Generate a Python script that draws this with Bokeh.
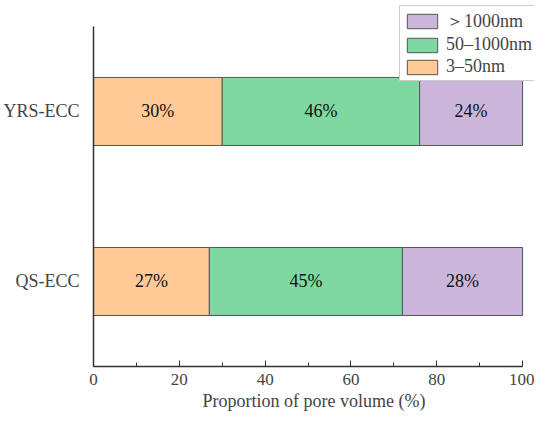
from bokeh.plotting import figure
from bokeh.models import ColumnDataSource, Legend, LegendItem, FixedTicker, SingleIntervalTicker, Range1d
from bokeh.core.properties import value
from bokeh.embed import file_html
from bokeh.resources import INLINE

samples = ["QS-ECC", "YRS-ECC"]
small = [27, 30]      # 3-50nm
medium = [45, 46]     # 50-1000nm
large = [28, 24]      # >1000nm
series_names = ["3–50nm", "50–1000nm", "＞1000nm"]
colors = ["#FFCA96", "#7ED8A0", "#CBB6DB"]
ypos = [0.5, 1.5]

FONT = "Liberation Serif"

src = ColumnDataSource(dict(y=ypos, s1=small, s2=medium, s3=large))

p = figure(width=534, height=416, output_backend="svg", toolbar_location=None,
           x_range=Range1d(0, 102.78), y_range=Range1d(0, 2.129),
           min_border_left=90, min_border_right=0, min_border_top=4, min_border_bottom=50)
p.outline_line_color = None
p.xgrid.visible = False
p.ygrid.visible = False

rs = p.hbar_stack(["s1", "s2", "s3"], y="y", height=0.4, source=src,
                  fill_color=colors, line_color="#555555", line_width=1)

# labels
lx, ly, lt = [], [], []
for i in range(len(samples)):
    vals = [small[i], medium[i], large[i]]
    left = 0
    for v in vals:
        lx.append(left + v / 2)
        ly.append(ypos[i])
        lt.append(f"{v}%")
        left += v
p.text(x=lx, y=ly, text=lt, text_align="center", text_baseline="middle",
       text_font=value(FONT), text_font_size="18px", text_color="#111111")

xa = p.xaxis[0]
xa.bounds = (0, 100)
xa.ticker = SingleIntervalTicker(interval=20, num_minor_ticks=2)
xa.axis_label = "Proportion of pore volume (%)"
xa.axis_label_text_font = FONT
xa.axis_label_text_font_style = "normal"
xa.axis_label_text_font_size = "18px"
xa.axis_label_standoff = 3
xa.major_label_text_font = FONT
xa.major_label_text_font_size = "17px"
xa.major_label_standoff = 7
xa.major_tick_in = 6
xa.major_tick_out = 0
xa.minor_tick_in = 4
xa.minor_tick_out = 0
xa.axis_line_color = "#333333"
xa.major_tick_line_color = "#333333"
xa.minor_tick_line_color = "#333333"
xa.axis_line_width = 1.5

ya = p.yaxis[0]
ya.bounds = (0, 2)
ya.ticker = FixedTicker(ticks=ypos)
ya.major_label_overrides = {ypos[i]: samples[i] for i in range(len(samples))}
ya.major_label_text_font = FONT
ya.major_label_text_font_size = "18px"
ya.major_tick_line_color = None
ya.minor_tick_line_color = None
ya.major_label_standoff = 8
ya.axis_line_color = "#333333"
ya.axis_line_width = 1.5

items = [LegendItem(label=series_names[k], renderers=[rs[k]]) for k in [2, 1, 0]]
legend = Legend(items=items, location=(306, 285),
                label_text_font=FONT, label_text_font_size="18px",
                glyph_width=38, glyph_height=18, spacing=1, padding=3, margin=0,
                label_standoff=5, border_line_color="#999999",
                background_fill_alpha=1.0, label_height=18)
p.add_layout(legend, "center")

open("out.html", "w").write(file_html(p, INLINE))
